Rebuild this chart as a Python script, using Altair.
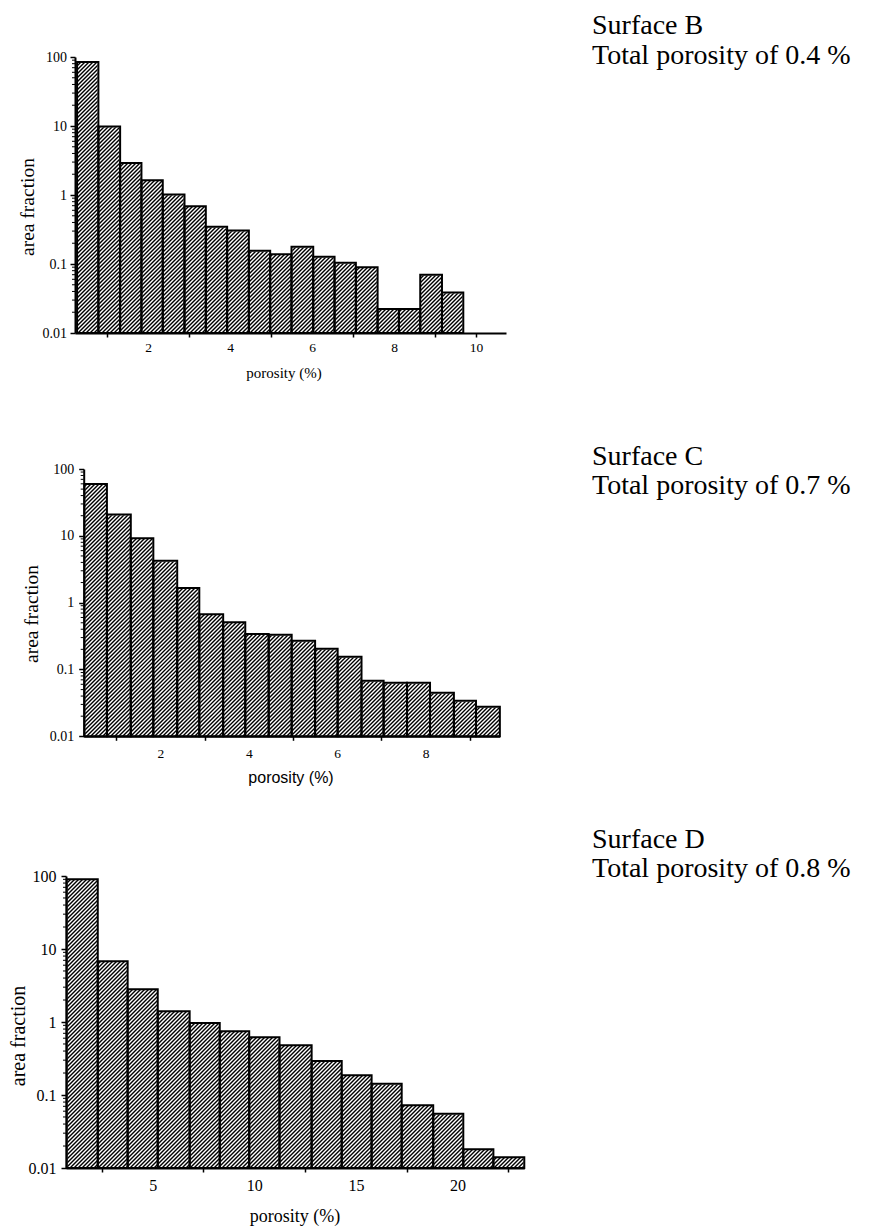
import altair as alt
import pandas as pd

# ---------------- data ----------------
# Surface B: bin edges (porosity %) and area fraction per bin
b_edges = [0.27, 0.79, 1.32, 1.84, 2.36, 2.89, 3.41, 3.93, 4.46, 4.98,
           5.50, 6.03, 6.55, 7.07, 7.60, 8.12, 8.64, 9.17, 9.69]
b_values = [84.6, 9.8, 2.9, 1.64, 1.02, 0.687, 0.348, 0.305, 0.156,
            0.138, 0.178, 0.127, 0.104, 0.090, 0.0223, 0.0223, 0.0698, 0.0386]

# Surface C
c_edges = [0.28, 0.79, 1.33, 1.84, 2.38, 2.88, 3.42, 3.92, 4.45, 4.97,
           5.50, 6.01, 6.55, 7.05, 7.58, 8.10, 8.64, 9.14, 9.68]
c_values = [59.6, 20.8, 9.18, 4.25, 1.65, 0.668, 0.507, 0.339, 0.332,
            0.270, 0.205, 0.155, 0.0679, 0.0634, 0.0634, 0.0450, 0.0341, 0.0277]

# Surface D
d_edges = [0.77, 2.30, 3.77, 5.25, 6.82, 8.30, 9.75, 11.24, 12.82, 14.30,
           15.77, 17.25, 18.80, 20.28, 21.76, 23.28]
d_values = [90.1, 6.79, 2.81, 1.40, 0.969, 0.746, 0.617, 0.480, 0.292,
            0.186, 0.143, 0.0723, 0.0555, 0.0180, 0.0140]

surface_names = ["Surface B", "Surface C", "Surface D"]
total_texts = ["Total porosity of 0.4 %", "Total porosity of 0.7 %", "Total porosity of 0.8 %"]
y_title = "area fraction"
x_title = "porosity (%)"

y_major = [0.01, 0.1, 1, 10, 100]
y_minor = [m * 10.0 ** e for e in range(-2, 2) for m in range(2, 10)]

b_xvals = [1, 2, 3, 4, 5, 6, 7, 8, 9, 10]
c_xvals = [1, 2, 3, 4, 5, 6, 7, 8, 9]
d_xvals = [2.5, 5, 7.5, 10, 12.5, 15, 17.5, 20, 22.5]

SERIF = "Liberation Serif"
SANS = "Liberation Sans"


def text_layer(s, x, y, size, font, angle=0, align="left"):
    props = dict(font=font, fontSize=size, align=align, baseline="alphabetic", color="black")
    if angle:
        props["angle"] = angle
    return alt.Chart(pd.DataFrame({"t": [s]})).mark_text(**props).encode(
        x=alt.value(x), y=alt.value(y), text="t:N")


def panel(edges, values, idx, g):
    W, H, ytop = g["W"], g["H"], g["ytop"]
    ppu, x0px, ax = g["ppu"], g["x0px"], g["ax"]

    def val_at(px):
        return (px - x0px) / ppu

    xs = alt.Scale(domain=[val_at(ax), val_at(W)], range=[ax, W], nice=False, zero=False)
    ys = alt.Scale(type="log", domain=[0.01, 100], range=[H, ytop], nice=False)

    xaxis = alt.Axis(
        values=g["xvals"], labelExpr=g["xlabel"],
        tickOpacity={"condition": {"test": g["xtick"], "value": 1}, "value": 0},
        title=None, grid=False, domainColor="black", domainWidth=2,
        tickColor="black", tickWidth=1.5, tickSize=4,
        labelFont=SERIF, labelFontSize=g["xfs"], labelColor="black",
        labelPadding=g["xpad"], labelFlush=False, labelOverlap=False, zindex=1)
    yaxis = alt.Axis(
        values=y_major, labelExpr="format(datum.value, '~g')",
        title=None, grid=False, domainColor="black", domainWidth=2,
        tickColor="black", tickWidth=1.5, tickSize=5,
        labelFont=SERIF, labelFontSize=g["yfs"], labelColor="black",
        labelPadding=g["ypad"], labelFlush=False, labelOverlap=False,
        offset=-ax, zindex=1)

    df = pd.DataFrame({"lo": edges[:-1], "hi": edges[1:], "val": values})

    # diagonal hatch (style), drawn over the whole plot, then masked
    span_px = H - ytop
    dxv = span_px / ppu
    step = 4.0 / ppu
    hatch = alt.Chart(alt.sequence(val_at(0) - dxv - step, val_at(W) + step, step, as_="k")
                      ).transform_calculate(
        k2=f"datum.k + {dxv}", ylo="0.01", yhi="100"
    ).mark_rule(color="black", strokeWidth=1.4, clip=True).encode(
        x=alt.X("k:Q", scale=xs, axis=xaxis),
        x2="k2:Q",
        y=alt.Y("ylo:Q", scale=ys, axis=yaxis),
        y2="yhi:Q",
    )

    cover_bars = alt.Chart(df).mark_rect(color="white", stroke="white", strokeWidth=1.5).encode(
        x=alt.X("lo:Q", scale=xs, axis=xaxis), x2="hi:Q",
        y=alt.Y("val:Q", scale=ys, axis=yaxis), y2=alt.value(-2))

    side = pd.DataFrame({"lo": [val_at(-2), edges[-1]], "hi": [edges[0], val_at(W + 2)]})
    cover_side = alt.Chart(side).mark_rect(color="white", stroke="white", strokeWidth=1.5).encode(
        x=alt.X("lo:Q", scale=xs, axis=xaxis), x2="hi:Q",
        y=alt.value(-2), y2=alt.value(H + 1))

    outline = alt.Chart(df).mark_rect(fillOpacity=0, stroke="black", strokeWidth=2).encode(
        x=alt.X("lo:Q", scale=xs, axis=xaxis), x2="hi:Q",
        y=alt.Y("val:Q", scale=ys, axis=yaxis), y2=alt.value(H))

    minor = alt.Chart(pd.DataFrame({"v": y_minor})).mark_rule(color="black", strokeWidth=1).encode(
        x=alt.value(ax - 3), x2=alt.value(ax), y=alt.Y("v:Q", scale=ys, axis=yaxis))

    texts = [
        text_layer(surface_names[idx], 526, g["t1"], 28, SERIF),
        text_layer(total_texts[idx], 526, g["t1"] + 29.3, 28, SERIF),
        text_layer(y_title, g["ytx"], g["yty"], g["ytfs"], SERIF, angle=270, align="center"),
        text_layer(x_title, g["xtx"], g["xty"], g["xtfs"], g["xtfont"], align="center"),
    ]

    return alt.layer(hatch, cover_bars, cover_side, outline, minor, *texts).properties(width=W, height=H)


geo_b = dict(W=440, H=276, ytop=0, ppu=41.0, x0px=0.0, ax=9.0,
             xvals=b_xvals, xlabel="datum.value % 2 == 0 ? format(datum.value, 'd') : ''",
             xtick="datum.value % 2 == 1 || datum.value == 10",
             xfs=13.5, xpad=3.5, yfs=14, ypad=3.5,
             t1=-22.7, ytx=-32, yty=150, ytfs=19.5,
             xtx=218, xty=321, xtfs=15, xtfont=SERIF)
geo_c = dict(W=433.7, H=267.3, ytop=0, ppu=44.2, x0px=6.0, ax=17.7,
             xvals=c_xvals, xlabel="datum.value % 2 == 0 ? format(datum.value, 'd') : ''",
             xtick="datum.value % 2 == 1",
             xfs=13.5, xpad=6, yfs=14, ypad=5,
             t1=-4.4, ytx=-27.7, yty=145, ytfs=19.5,
             xtx=225, xty=314, xtfs=16, xtfont=SANS)
geo_d = dict(W=458.3, H=295, ytop=3, ppu=20.33, x0px=-15.0, ax=0.0,
             xvals=d_xvals, xlabel="datum.value % 5 == 0 ? format(datum.value, 'd') : ''",
             xtick="datum.value % 5 != 0",
             xfs=16, xpad=5, yfs=16, ypad=5,
             t1=-25.3, ytx=-41, yty=163, ytfs=20,
             xtx=229, xty=349, xtfs=18, xtfont=SERIF)

pB = panel(b_edges, b_values, 0, geo_b)
pC = panel(c_edges, c_values, 1, geo_c)
pD = panel(d_edges, d_values, 2, geo_d)

chart = alt.vconcat(pB, pC, pD, spacing=136, bounds="flush").properties(
    padding={"top": 3, "left": 0, "right": 0, "bottom": 0}
).configure_view(stroke="transparent")

chart.save("out.html", embed_options={"renderer": "svg", "actions": False})
